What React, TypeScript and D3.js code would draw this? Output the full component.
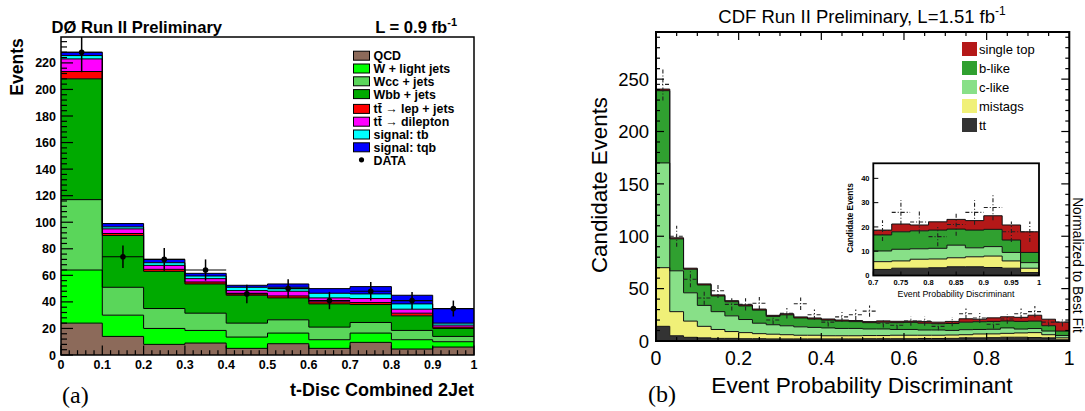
import * as d3 from 'd3'

// ---------- panel (a): DØ ----------
const aEdges = [0, 0.1, 0.2, 0.3, 0.4, 0.5, 0.6, 0.7, 0.8, 0.9, 1]
const aKeys = ['qcd', 'wlight', 'wcc', 'wbb', 'ttlep', 'ttdil', 'tb', 'tqb']
const aNames = ['QCD', 'W + light jets', 'Wcc + jets', 'Wbb + jets', 'tt\u0304 \u2192 lep + jets', 'tt\u0304 \u2192 dilepton', 'signal: tb', 'signal: tqb']
const aColors = ['#8c6a5a', '#00ff00', '#5ad65a', '#00aa00', '#ff0000', '#ff00ff', '#00ffff', '#0000ff']
const aQCD = [24, 14, 8, 9, 5, 8.5, 5, 9.5, 4.5, 6]
const aWlight = [40, 16, 12, 9.5, 8.5, 8, 6.5, 7, 7, 4]
const aWcc = [53, 21, 15, 13, 10.5, 10, 9.5, 8, 7, 4]
const aWbb = [91, 39, 28, 22, 21, 16.5, 17.5, 13.5, 11, 6]
const aTtLep = [5.5, 1.5, 1.5, 1.5, 1.5, 1.5, 1.5, 1.5, 2, 1]
const aTtDil = [9.5, 3.5, 3, 2.5, 2, 3.5, 3, 3, 3, 1.5]
const aTb = [2.5, 1.5, 2, 2, 2.5, 3, 3.5, 3.5, 4, 1.5]
const aTqb = [2.5, 2.5, 2.5, 2, 1.5, 2.5, 3.5, 5.5, 6.5, 11]
const aSeries = [aQCD, aWlight, aWcc, aWbb, aTtLep, aTtDil, aTb, aTqb]
const aData = [228, 74, 72, 64, 46, 50, 41, 48, 41, 35]
const aErr = [15, 8.5, 8.5, 8, 7, 7, 6.5, 7, 6.5, 6]

// ---------- panel (b): CDF ----------
const bEdges = d3.range(31).map((i) => i / 30)
const bKeys = ['tt', 'mistag', 'clike', 'blike', 'stop']
const bNames = ['single top', 'b-like', 'c-like', 'mistags', 'tt']
const bColors = ['#333333', '#f0f078', '#88e088', '#30a030', '#b41818']
const bTt = [14, 5, 3.5, 3, 2.5, 2.5, 2.2, 2.2, 2, 2, 2, 2, 2, 2, 2, 2.2, 2.2, 2.2, 2.2, 2.4, 2.4, 2.5, 3, 3, 3.2, 3.6, 3.6, 3.3, 3, 1.2]
const bMistag = [56, 23, 15.5, 11, 8.5, 6.5, 5.8, 4.8, 4.5, 4, 3.5, 3.5, 3, 3, 3, 3, 3, 3.3, 3.3, 3.1, 3.1, 3.2, 3, 3.7, 3.6, 3.7, 4.1, 4.7, 3, 1.8]
const bClike = [100, 39, 27, 20, 17, 15, 12.5, 10, 9, 8.5, 8, 7.5, 7.5, 7, 7, 6.3, 6.3, 5.5, 5.5, 5, 5, 4.4, 4.8, 4.3, 4.4, 5.2, 3.7, 3.9, 3.5, 2.3]
const bBlike = [69, 30.5, 22.5, 19.5, 15, 13.5, 13, 12.5, 8, 10.5, 8.5, 8, 7.5, 7, 6.5, 6, 6.5, 6.5, 6.8, 6.5, 6, 6.6, 7.2, 7.4, 7.5, 6.6, 7.3, 7.1, 5.1, 4.2]
const bStop = [1.5, 1, 1, 1, 1, 1, 1, 1, 1, 1, 1, 1, 1, 1, 1, 1, 1.2, 1.3, 1.2, 1.5, 1.5, 2, 3.2, 2.4, 3.4, 4, 3.9, 5.6, 6.2, 8.5]
const bSeries = [bTt, bMistag, bClike, bBlike, bStop]
const bData = [245, 100, 59, 41, 48, 35, 35, 36, 20, 26.5, 35.5, 25, 18, 23, 25, 28.5, 17, 15, 19, 19, 14, 18.5, 26, 22, 16, 21, 26, 28, 18, 18]
const bErr = [15.5, 10, 7.7, 6.4, 6.9, 5.9, 5.9, 6, 4.5, 5.1, 6, 5, 4.2, 4.8, 5, 5.3, 4.1, 3.9, 4.4, 4.4, 3.7, 4.3, 5.1, 4.7, 4, 4.6, 5.1, 5.3, 4.2, 4.2]

const SANS = "'Liberation Sans', Arial, sans-serif"
const SERIF = "'Liberation Serif', 'Times New Roman', serif"

function buildStack(edges: number[], keys: string[], series: number[][]) {
	const rows = edges.slice(0, -1).map((x0, i) => {
		const r: any = { x0, x1: edges[i + 1] }
		keys.forEach((k, j) => (r[k] = series[j][i]))
		return r
	})
	const stacked = d3.stack<any>().keys(keys)(rows)
	return stacked.map((s) => s.map((d, i) => ({ x: rows[i].x0, x1: rows[i].x1, lo: d[0], hi: d[1] })))
}

// repeat the last bin at its right edge so the step closes
function stepPts(p: any[]) {
	const last = p[p.length - 1]
	return [...p, { ...last, x: last.x1 }]
}

function PanelA() {
	const x = d3.scaleLinear().domain([0, 1]).range([61, 474])
	const y = d3.scaleLinear().domain([0, 239.5]).range([355, 37])
	const layers = buildStack(aEdges, aKeys, aSeries)
	const area = d3.area<any>().x((d) => x(d.x)).y0((d) => y(d.lo)).y1((d) => y(d.hi)).curve(d3.curveStepAfter)
	const line = d3.line<any>().x((d) => x(d.x)).y((d) => y(d.hi)).curve(d3.curveStepAfter)
	const yMajor = d3.range(0, 239, 20)
	const yMinor = d3.range(0, 239, 4).filter((v) => v % 20 !== 0)
	const xMajor = d3.range(0, 11).map((i) => i / 10)
	const xMinor = d3.range(0, 51).map((i) => i / 50).filter((_, i) => i % 5 !== 0)
	const [x0, x1] = x.range()
	const [yb, yt] = y.range()

	return (
		<g>
			<defs>
				<clipPath id="clipA">
					<rect x={x0} y={yt} width={x1 - x0} height={yb - yt} />
				</clipPath>
			</defs>
			{layers.map((p, i) => (
				<path key={'fa' + i} d={area(stepPts(p)) || ''} fill={aColors[i]} />
			))}
			{layers.map((p, i) => (
				<path key={'la' + i} d={line(stepPts(p)) || ''} fill="none" stroke="#000" strokeWidth={1} />
			))}
			{/* data */}
			<g clipPath="url(#clipA)">
				{aData.map((v, i) => {
					const cx = x((aEdges[i] + aEdges[i + 1]) / 2)
					return (
						<g key={'da' + i}>
							<line x1={cx} x2={cx} y1={y(v - aErr[i])} y2={y(v + aErr[i])} stroke="#000" strokeWidth={1.5} />
							<line x1={x(aEdges[i])} x2={x(aEdges[i + 1])} y1={y(v)} y2={y(v)} stroke="#000" strokeWidth={1.2} />
							<circle cx={cx} cy={y(v)} r={2.8} fill="#000" />
						</g>
					)
				})}
			</g>
			{/* ticks */}
			{yMajor.map((v) => (
				<line key={'yM' + v} x1={x0} x2={x0 + 12} y1={y(v)} y2={y(v)} stroke="#000" strokeWidth={1.2} />
			))}
			{yMinor.map((v) => (
				<line key={'ym' + v} x1={x0} x2={x0 + 6} y1={y(v)} y2={y(v)} stroke="#000" strokeWidth={1.2} />
			))}
			{xMajor.map((v) => (
				<line key={'xM' + v} x1={x(v)} x2={x(v)} y1={yb} y2={yb - 9.5} stroke="#000" strokeWidth={1.2} />
			))}
			{xMinor.map((v) => (
				<line key={'xm' + v} x1={x(v)} x2={x(v)} y1={yb} y2={yb - 4.8} stroke="#000" strokeWidth={1.2} />
			))}
			<rect x={x0} y={yt} width={x1 - x0} height={yb - yt} fill="none" stroke="#000" strokeWidth={1.5} />
			{/* tick labels */}
			<g fontFamily={SANS} fontWeight="bold" fontSize={12.5}>
				{yMajor.map((v) => (
					<text key={'yl' + v} x={x0 - 5} y={y(v)} dy="0.36em" textAnchor="end">
						{v}
					</text>
				))}
				{xMajor.map((v) => (
					<text key={'xl' + v} x={x(v)} y={369} textAnchor="middle">
						{d3.format('~g')(v)}
					</text>
				))}
			</g>
			<text transform="translate(23,67) rotate(-90)" textAnchor="middle" fontFamily={SANS} fontWeight="bold" fontSize={17.5}>
				Events
			</text>
			<text x={474} y={396} textAnchor="end" fontFamily={SANS} fontWeight="bold" fontSize={18}>
				t-Disc Combined 2Jet
			</text>
			<text x={51.5} y={33} fontFamily={SANS} fontWeight="bold" fontSize={16.6}>
				DØ Run II Preliminary
			</text>
			<text x={457} y={32.5} textAnchor="end" fontFamily={SANS} fontWeight="bold" fontSize={16.6}>
				L = 0.9 fb<tspan dy={-7} fontSize={11}>-1</tspan>
			</text>
			{/* legend */}
			<g fontFamily={SANS} fontWeight="bold" fontSize={12.4}>
				{aNames.map((n, i) => {
					const cy = 55.7 + i * 12.8 + (i >= 4 ? 2 : 0)
					return (
						<g key={'lg' + i}>
							<rect x={353.5} y={cy - 4.5} width={16} height={9} fill={aColors[i]} stroke="#000" strokeWidth={1} />
							<text x={373.5} y={cy + 4.4}>
								{n}
							</text>
						</g>
					)
				})}
				<circle cx={361.5} cy={159.8} r={2.6} fill="#000" />
				<text x={373.5} y={164.6}>
					DATA
				</text>
			</g>
			<text x={62} y={403} fontFamily={SERIF} fontSize={24}>
				(a)
			</text>
		</g>
	)
}

function DataCross({ x, y, x0, x1, v, e }: any) {
	return (
		<g stroke="#222" strokeWidth={1.1} strokeDasharray="4 2 1 2" fill="none">
			<line x1={x0} x2={x1} y1={y(v)} y2={y(v)} />
			<line x1={x} x2={x} y1={y(v - e)} y2={y(v + e)} />
		</g>
	)
}

function PanelB() {
	const x = d3.scaleLinear().domain([0, 1]).range([656, 1069.3])
	const y = d3.scaleLinear().domain([0, 295]).range([341, 32])
	const layers = buildStack(bEdges, bKeys, bSeries)
	const area = d3.area<any>().x((d) => x(d.x)).y0((d) => y(d.lo)).y1((d) => y(d.hi)).curve(d3.curveStepAfter)
	const line = d3.line<any>().x((d) => x(d.x)).y((d) => y(d.hi)).curve(d3.curveStepAfter)
	const [x0, x1] = x.range()
	const [yb, yt] = y.range()
	const yMajor = d3.range(0, 251, 50)
	const yMinor = d3.range(0, 291, 10).filter((v) => v % 50 !== 0)
	const xMajor = [0, 0.2, 0.4, 0.6, 0.8, 1]
	const xMinor = d3.range(0, 21).map((i) => i / 20).filter((_, i) => i % 4 !== 0)

	// inset: zoom on 0.7 - 1
	const ix = d3.scaleLinear().domain([0.7, 1]).range([873.3, 1039])
	const iy = d3.scaleLinear().domain([0, 46.2]).range([275.5, 163.3])
	const iArea = d3.area<any>().x((d) => ix(d.x)).y0((d) => iy(d.lo)).y1((d) => iy(d.hi)).curve(d3.curveStepAfter)
	const iLine = d3.line<any>().x((d) => ix(d.x)).y((d) => iy(d.hi)).curve(d3.curveStepAfter)
	const inBins = (p: any[]) => p.filter((d) => d.x >= 0.7 - 1e-9)
	const [ix0, ix1] = ix.range()
	const [iyb, iyt] = iy.range()
	const ixTicks = [0.7, 0.75, 0.8, 0.85, 0.9, 0.95, 1]
	const iyTicks = [0, 10, 20, 30, 40]

	return (
		<g>
			<defs>
				<clipPath id="clipB">
					<rect x={x0} y={yt} width={x1 - x0} height={yb - yt} />
				</clipPath>
				<clipPath id="clipI">
					<rect x={ix0} y={iyt} width={ix1 - ix0} height={iyb - iyt} />
				</clipPath>
			</defs>
			<text x={862} y={23} textAnchor="middle" fontFamily={SANS} fontSize={18.5}>
				CDF Run II Preliminary, L=1.51 fb<tspan dy={-8} fontSize={12}>-1</tspan>
			</text>
			{layers.map((p, i) => (
				<path key={'fb' + i} d={area(stepPts(p)) || ''} fill={bColors[i]} />
			))}
			{layers.map((p, i) => (
				<path key={'lb' + i} d={line(stepPts(p)) || ''} fill="none" stroke="#111" strokeWidth={1} />
			))}
			<g clipPath="url(#clipB)">
				{bData.map((v, i) => (
					<DataCross key={'db' + i} x={x((bEdges[i] + bEdges[i + 1]) / 2)} x0={x(bEdges[i])} x1={x(bEdges[i + 1])} y={y} v={v} e={bErr[i]} />
				))}
			</g>
			{/* ticks on all four sides */}
			<g stroke="#000" strokeWidth={1.2}>
				{yMajor.map((v) => (
					<g key={'byM' + v}>
						<line x1={x0} x2={x0 + 8} y1={y(v)} y2={y(v)} />
						<line x1={x1} x2={x1 - 8} y1={y(v)} y2={y(v)} />
					</g>
				))}
				{yMinor.map((v) => (
					<g key={'bym' + v}>
						<line x1={x0} x2={x0 + 4} y1={y(v)} y2={y(v)} />
						<line x1={x1} x2={x1 - 4} y1={y(v)} y2={y(v)} />
					</g>
				))}
				{xMajor.map((v) => (
					<g key={'bxM' + v}>
						<line x1={x(v)} x2={x(v)} y1={yb} y2={yb - 8} />
						<line x1={x(v)} x2={x(v)} y1={yt} y2={yt + 8} />
					</g>
				))}
				{xMinor.map((v) => (
					<g key={'bxm' + v}>
						<line x1={x(v)} x2={x(v)} y1={yb} y2={yb - 4} />
						<line x1={x(v)} x2={x(v)} y1={yt} y2={yt + 4} />
					</g>
				))}
			</g>
			<rect x={x0} y={yt} width={x1 - x0} height={yb - yt} fill="none" stroke="#000" strokeWidth={2} />
			<g fontFamily={SANS} fontSize={18.5}>
				{yMajor.map((v) => (
					<text key={'byl' + v} x={649} y={y(v)} dy="0.36em" textAnchor="end">
						{v}
					</text>
				))}
			</g>
			<g fontFamily={SANS} fontSize={19.5}>
				{xMajor.map((v) => (
					<text key={'bxl' + v} x={x(v)} y={365} textAnchor="middle">
						{d3.format('~g')(v)}
					</text>
				))}
			</g>
			<text transform="translate(606.5,185) rotate(-90)" textAnchor="middle" fontFamily={SANS} fontSize={22.3}>
				Candidate Events
			</text>
			<text x={862} y={393} textAnchor="middle" fontFamily={SANS} fontSize={22.7}>
				Event Probability Discriminant
			</text>
			<text transform="translate(1073,265) rotate(90)" textAnchor="middle" fontFamily={SANS} fontSize={13.8}>
				Normalized to Best Fit
			</text>
			{/* legend */}
			<g fontFamily={SANS} fontSize={13}>
				{bNames.map((n, i) => {
					const cy = 49 + i * 19
					return (
						<g key={'blg' + i}>
							<rect x={962} y={cy - 7} width={15} height={14} fill={bColors[bColors.length - 1 - i]} />
							<text x={979} y={cy + 4.6}>
								{n}
							</text>
						</g>
					)
				})}
			</g>
			{/* inset */}
			<rect x={ix0} y={iyt} width={ix1 - ix0} height={iyb - iyt} fill="#fff" />
			<g clipPath="url(#clipI)">
				{layers.map((p, i) => (
					<path key={'fi' + i} d={iArea(stepPts(inBins(p))) || ''} fill={bColors[i]} />
				))}
				{layers.map((p, i) => (
					<path key={'li' + i} d={iLine(stepPts(inBins(p))) || ''} fill="none" stroke="#111" strokeWidth={1} />
				))}
				{bData.map((v, i) =>
					bEdges[i] >= 0.7 - 1e-9 ? (
						<DataCross key={'di' + i} x={ix((bEdges[i] + bEdges[i + 1]) / 2)} x0={ix(bEdges[i])} x1={ix(bEdges[i + 1])} y={iy} v={v} e={bErr[i]} />
					) : null
				)}
			</g>
			<g stroke="#000" strokeWidth={1}>
				{iyTicks.map((v) => (
					<line key={'iyt' + v} x1={ix0} x2={ix0 + 5} y1={iy(v)} y2={iy(v)} />
				))}
				{ixTicks.map((v) => (
					<line key={'ixt' + v} x1={ix(v)} x2={ix(v)} y1={iyb} y2={iyb - 4} />
				))}
			</g>
			<rect x={ix0} y={iyt} width={ix1 - ix0} height={iyb - iyt} fill="none" stroke="#000" strokeWidth={1.8} />
			<g fontFamily={SANS} fontWeight="bold" fontSize={7.5}>
				{iyTicks.map((v) => (
					<text key={'iyl' + v} x={869.5} y={iy(v)} dy="0.36em" textAnchor="end">
						{v}
					</text>
				))}
				{ixTicks.map((v) => (
					<text key={'ixl' + v} x={ix(v)} y={285} textAnchor="middle">
						{d3.format('~g')(v)}
					</text>
				))}
			</g>
			<text transform="translate(853,218) rotate(-90)" textAnchor="middle" fontFamily={SANS} fontWeight="bold" fontSize={8.3}>
				Candidate Events
			</text>
			<text x={956} y={296.5} textAnchor="middle" fontFamily={SANS} fontSize={8.8}>
				Event Probability Discriminant
			</text>
			<text x={648} y={402} fontFamily={SERIF} fontSize={24}>
				(b)
			</text>
		</g>
	)
}

export default function App() {
	return (
		<svg width={1085} height={411} style={{ position: 'absolute', left: 0, top: 0, background: '#fff' }}>
			<rect width={1085} height={411} fill="#fff" />
			<PanelA />
			<PanelB />
		</svg>
	)
}
